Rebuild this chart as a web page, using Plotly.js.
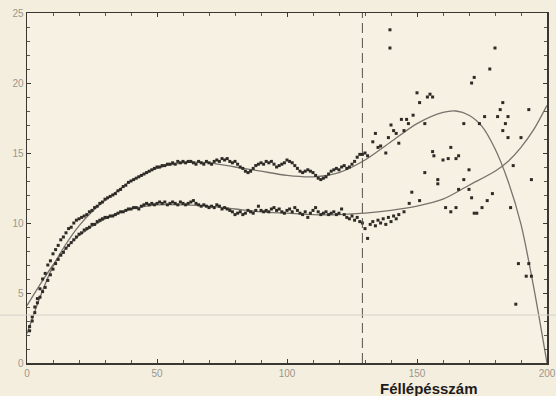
<!DOCTYPE html>
<html>
<head>
<meta charset="utf-8">
<script src="https://cdn.plot.ly/plotly-3.0.1.min.js"></script>
<style>html,body{margin:0;padding:0;background:#f4eedf;}</style>
</head>
<body>
<div id="chart" style="width:556px;height:396px;"></div>
<script>
// Upper series (x = 1..128)
const upperX = Array.from({length: 128}, (_, i) => i + 1);
const upperY = [
  2.6, 3.3, 4.0, 4.6, 5.3, 6.0, 6.4, 7.0, 7.3, 7.8,
  8.1, 8.4, 8.8, 9.0, 9.3, 9.6, 9.7, 10.0, 10.2, 10.3,
  10.4, 10.5, 10.6, 10.8, 10.9, 11.1, 11.2, 11.4, 11.5, 11.7,
  11.8, 11.9, 12.0, 12.1, 12.3, 12.4, 12.6, 12.7, 12.9, 13.0,
  13.1, 13.2, 13.3, 13.4, 13.5, 13.6, 13.7, 13.8, 13.9, 14.0,
  14.0, 14.1, 14.1, 14.2, 14.2, 14.3, 14.2, 14.4, 14.3, 14.4,
  14.3, 14.4, 14.4, 14.3, 14.2, 14.4, 14.3, 14.2, 14.4, 14.3,
  14.2, 14.4, 14.5, 14.4, 14.6, 14.5, 14.6, 14.4, 14.3, 14.4,
  14.2, 14.0, 13.9, 13.7, 13.6, 13.7, 13.9, 14.1, 14.2, 14.3,
  14.2, 14.4, 14.3, 14.4, 14.2, 14.0, 14.1, 14.2, 14.3, 14.5,
  14.4, 14.3, 14.1, 13.9, 13.7, 13.6, 13.7, 13.8, 13.7, 13.6,
  13.4, 13.2, 13.1, 13.2, 13.3, 13.5, 13.7, 13.8, 13.9, 13.8,
  14.0, 14.1, 13.9, 14.0, 14.2, 14.4, 14.7, 14.9
];
// Lower series (x = 1..128)
const lowerX = Array.from({length: 128}, (_, i) => i + 1);
const lowerY = [
  2.3, 3.0, 3.6, 4.3, 4.7, 5.1, 5.4, 5.9, 6.3, 6.7,
  7.1, 7.4, 7.7, 7.9, 8.2, 8.4, 8.6, 8.8, 9.0, 9.2,
  9.3, 9.5, 9.6, 9.7, 9.9, 9.9, 10.1, 10.2, 10.3, 10.4,
  10.4, 10.5, 10.5, 10.6, 10.7, 10.8, 10.8, 10.9, 11.0, 11.0,
  11.1, 11.1, 11.0, 11.2, 11.3, 11.4, 11.3, 11.4, 11.3, 11.4,
  11.5, 11.4, 11.5, 11.3, 11.4, 11.5, 11.4, 11.3, 11.5, 11.4,
  11.3, 11.4, 11.5, 11.6, 11.4, 11.3, 11.2, 11.3, 11.2, 11.1,
  11.2, 11.1, 11.3, 11.2, 11.0, 11.1, 11.0, 10.9, 10.8, 10.6,
  10.7, 10.8, 10.6, 10.7, 10.9, 10.8, 10.7, 10.9, 11.2, 10.9,
  10.8, 10.9, 10.8, 11.0, 11.1, 10.9, 11.0, 10.8, 10.7, 10.9,
  11.0, 10.8, 11.1, 10.9, 10.7, 10.6, 10.8, 10.4, 10.7, 10.9,
  11.1, 10.8, 10.6, 10.7, 10.8, 10.6, 10.7, 10.8, 10.6, 10.7,
  11.0, 10.6, 10.4, 10.3, 10.5, 10.2, 10.4, 10.1
];
// Scattered points after the dashed line (upper group)
const upperTailX = [129, 130, 131, 133, 134, 135, 136, 138, 139, 140, 139.6, 139.6, 141, 142, 143, 144, 145, 146, 146.7, 148.5, 150, 151, 153, 154, 155, 156,
  168, 171, 172, 174, 176, 178, 180, 181, 182, 183, 183, 184, 185, 185, 190, 193, 187, 194];
const upperTailY = [14.9, 15.0, 14.8, 15.8, 16.4, 15.4, 15.5, 15.0, 16.1, 17.0, 23.8, 22.5, 16.6, 16.4, 15.7, 17.4, 16.6, 17.4, 17.1, 17.7, 19.3, 18.6, 17.1, 19.0, 19.2, 19.0,
  17.1, 20.0, 20.4, 17.1, 17.6, 21.0, 22.5, 17.6, 18.1, 18.6, 16.6, 17.1, 17.6, 16.1, 16.1, 18.1, 14.1, 13.1];
// Scattered points after the dashed line (lower group)
const lowerTailX = [129, 130, 131, 132, 133, 134, 135, 136, 137, 138, 139, 140, 141, 142, 143, 145, 147, 148, 151, 153, 156, 156.5, 158, 158, 160, 161, 163, 162, 163, 165, 165, 166, 166, 168, 170, 170, 171, 172, 173, 175, 177, 179, 186, 189, 193, 192, 194, 188];
const lowerTailY = [10.0, 9.6, 8.9, 9.9, 10.1, 9.8, 10.2, 10.0, 10.3, 9.9, 10.4, 10.1, 10.5, 10.3, 10.6, 10.8, 11.4, 12.2, 11.6, 13.6, 15.1, 14.8, 12.8, 13.1, 14.5, 11.1, 10.8, 14.6, 15.4, 14.6, 11.1, 14.8, 12.4, 13.1, 13.8, 12.4, 11.8, 10.7, 10.7, 11.1, 11.6, 12.1, 11.1, 7.1, 7.1, 6.2, 6.2, 4.2];
// Fitted curve for the upper series
const fitUX = [0, 5, 10, 15, 20, 25, 30, 40, 50, 60, 70, 80, 90, 100, 110, 120, 130, 140, 150, 160, 165, 170, 175, 180, 185, 190, 195, 200];
const fitUY = [2.1, 4.7, 6.9, 8.5, 9.8, 10.8, 11.6, 13.0, 13.9, 14.3, 14.3, 14.0, 13.7, 13.4, 13.3, 13.6, 14.5, 15.8, 17.1, 17.9, 18.0, 17.7, 16.9, 15.3, 13.0, 9.9, 5.3, 0.0];
// Fitted curve for the lower series
const fitLX = [0, 5, 10, 15, 20, 30, 40, 50, 60, 70, 80, 90, 100, 110, 120, 130, 140, 150, 160, 170, 180, 185, 190, 195, 200];
const fitLY = [4.1, 5.6, 7.0, 8.2, 9.1, 10.3, 11.0, 11.3, 11.3, 11.2, 11.0, 10.8, 10.7, 10.6, 10.6, 10.7, 10.9, 11.2, 11.7, 12.7, 13.7, 14.4, 15.4, 16.7, 18.4];
const dividerX = 129;
const xTicks = [0, 50, 100, 150, 200];
const yTicks = [0, 5, 10, 15, 20, 25];
const xTitle = 'Féllépésszám';

const markerStyle = {symbol: 'square', size: 3, color: '#2e2b27'};
const lineStyle = {color: '#77736c', width: 1.3, shape: 'spline', smoothing: 0.8};

const traces = [
  {x: fitUX, y: fitUY, mode: 'lines', line: lineStyle, hoverinfo: 'skip'},
  {x: fitLX, y: fitLY, mode: 'lines', line: lineStyle, hoverinfo: 'skip'},
  {x: upperX, y: upperY, mode: 'markers', marker: markerStyle},
  {x: lowerX, y: lowerY, mode: 'markers', marker: markerStyle},
  {x: upperTailX, y: upperTailY, mode: 'markers', marker: markerStyle},
  {x: lowerTailX, y: lowerTailY, mode: 'markers', marker: markerStyle}
];

const axisCommon = {
  showgrid: false, zeroline: false, showline: true, linecolor: '#3a3733', linewidth: 1.5,
  mirror: 'ticks', ticks: 'inside', ticklen: 4, tickcolor: '#3a3733', tickwidth: 1,
  tickfont: {family: 'Arial, Liberation Sans, sans-serif', size: 10, color: '#9b978c'}
};

const layout = {
  width: 556, height: 396,
  margin: {l: 27, r: 9, t: 13, b: 33},
  paper_bgcolor: '#f4eedf', plot_bgcolor: '#f6f1e3',
  showlegend: false,
  xaxis: Object.assign({}, axisCommon, {
    range: [0, 200], tickvals: xTicks, ticktext: xTicks.map(String),
    minor: {dtick: 10, ticklen: 3, tickcolor: '#5a5650', ticks: 'inside'}
  }),
  yaxis: Object.assign({}, axisCommon, {
    range: [0, 25], tickvals: yTicks, ticktext: yTicks.map(String),
    minor: {dtick: 1, ticklen: 3, tickcolor: '#5a5650', ticks: 'inside'}
  }),
  shapes: [
    {type: 'line', xref: 'x', yref: 'paper', x0: dividerX, x1: dividerX, y0: 0, y1: 1,
     line: {color: '#55524c', width: 1, dash: '10px,5px'}},
    {type: 'line', xref: 'paper', yref: 'paper', x0: -0.06, x1: 1.02, y0: 0.137, y1: 0.137,
     line: {color: '#d3d0c8', width: 1}}
  ],
  annotations: [
    {text: '<b>' + xTitle + '</b>', xref: 'paper', yref: 'paper', x: 0.774, y: -0.074,
     xanchor: 'center', yanchor: 'middle', showarrow: false,
     font: {family: 'Arial, Liberation Sans, sans-serif', size: 15, color: '#1e1c1a'}}
  ]
};

Plotly.newPlot('chart', traces, layout, {displayModeBar: false, staticPlot: true});
</script>
</body>
</html>
